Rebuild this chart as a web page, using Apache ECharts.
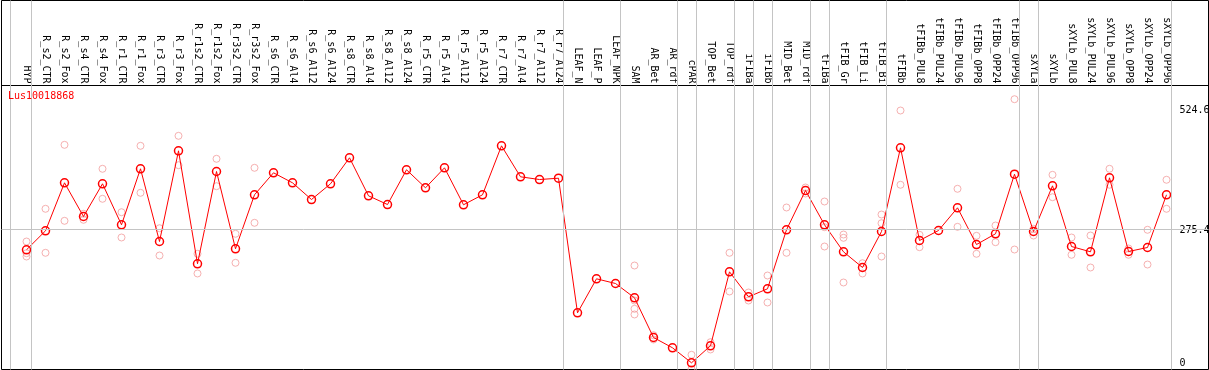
<!DOCTYPE html>
<html>
<head>
<meta charset="utf-8">
<script src="https://cdn.jsdelivr.net/npm/echarts@6/dist/echarts.min.js"></script>
<style>
html,body{margin:0;padding:0;background:#fff;}
#chart{width:1209px;height:370px;}
</style>
</head>
<body>
<div id="chart"></div>
<script>
const chartTitle = 'Lus10018868';
const categories = ['HYP','R_s2_CTR','R_s2_Fox','R_s4_CTR','R_s4_Fox','R_r1_CTR','R_r1_Fox','R_r3_CTR','R_r3_Fox','R_r1s2_CTR','R_r1s2_Fox','R_r3s2_CTR','R_r3s2_Fox','R_s6_CTR','R_s6_Al4','R_s6_Al12','R_s6_Al24','R_s8_CTR','R_s8_Al4','R_s8_Al12','R_s8_Al24','R_r5_CTR','R_r5_Al4','R_r5_Al12','R_r5_Al24','R_r7_CTR','R_r7_Al4','R_r7_Al12','R_r7_Al24','LEAF_N','LEAF_P','LEAF_NPK','SAM','AR_Bet','AR_rdf','cPAR','TOP_Bet','TOP_rdf','iFIBa','iFIBb','MID_Bet','MID_rdf','tFIBa','tFIB_Gr','tFIB_Li','tFIB_Bi','tFIBb','tFIBb_PUL8','tFIBb_PUL24','tFIBb_PUL96','tFIBb_OPP8','tFIBb_OPP24','tFIBb_OPP96','sXYLa','sXYLb','sXYLb_PUL8','sXYLb_PUL24','sXYLb_PUL96','sXYLb_OPP8','sXYLb_OPP24','sXYLb_OPP96'];
const means = [235.5,271.9,364.1,299.4,362.2,283.5,391.0,251.4,425.5,208.6,
  385.8,237.4,341.1,383.3,364.1,332.0,362.2,412.1,339.1,322.4,
  389.1,354.5,392.9,321.9,341.1,435.1,375.6,370.4,372.9,114.5,
  179.8,170.8,143.3,67.1,47.3,18.5,51.2,193.2,145.2,160.6,
  273.9,349.3,283.5,231.6,201.5,270.6,431.3,253.3,272.5,316.1,
  245.6,266.2,380.6,270.6,358.3,241.8,231.6,373.7,232.2,239.9,341.1];
const replicates = [
  [251.4,228.9,222.6],[314.2,229.7],[437.0,291.1],[304.6,293.1],[391.0,333.4],
  [307.6,259.1],[435.1,344.9],[276.9,224.5],[454.3,397.9],[227.8,190.0],
  [410.2,357.6],[266.2,210.5],[392.9,287.3],[],[],
  [],[],[],[],[],
  [],[],[],[],[],
  [],[],[],[],[],
  [],[],[205.3,138.1,122.2,111.3],[71.5,63.3],[],
  [33.9,6.6],[58.1,44.1],[229.7,155.4],[153.5,138.1],[186.1,134.3],
  [316.7,229.7],[355.1,343.6],[328.2,278.9,241.8],[264.8,258.5,172.7],[209.7,190.0],
  [303.2,286.5,222.6],[502.9,360.3],[264.3,240.5],[],[352.6,279.6],
  [262.3,227.8],[282.1,250.1],[524.6,236.0],[275.8,262.9],[379.4,336.4],
  [259.1,225.9],[262.9,201.5],[391.0,360.3],[238.0,225.9],[273.9,207.2],
  [369.9,314.2]
];
const groupEnds = ['HYP','R_r7_Al24','LEAF_NPK','AR_rdf','cPAR','TOP_rdf','iFIBa','iFIBb','MID_rdf','tFIBa','tFIB_Bi','tFIBb_OPP96','sXYLa','sXYLb_OPP96'];
const refLineValue = 275.4;
const yTickValues = [0, 275.4, 524.6];
const yTickLabels = ['0', '275.4', '524.6'];

// layout constants
const SEP_OFFSET = 0.235;
const LEAD_SEP = -0.84;
const X_MIN = -1.3158, X_MAX = 62.21;
const Y_MIN = 5.66, Y_MAX = 714.1;
const LBL_MIN = -13.48, LBL_MAX = 751.7;
const MONO = "'DejaVu Sans Mono', monospace";

const meanData = means.map((v, i) => [i, v]);
const repData = [];
replicates.forEach((arr, i) => arr.forEach(v => repData.push([i, v])));
const sepLines = [{xAxis: LEAD_SEP}].concat(groupEnds.map(n => ({xAxis: categories.indexOf(n) + SEP_OFFSET})));

const chart = echarts.init(document.getElementById('chart'), null, {renderer: 'canvas'});
chart.setOption({
  animation: false,
  backgroundColor: '#ffffff',
  title: {
    text: chartTitle, left: 8, top: 91, padding: 0,
    textStyle: {color: '#ff0000', fontSize: 10, fontWeight: 'normal', fontFamily: MONO}
  },
  grid: {
    left: 1.5, right: 0.5, top: 0.5, bottom: 0.5,
    show: true, borderColor: '#000000', borderWidth: 1, backgroundColor: 'transparent',
    containLabel: false, outerBoundsMode: 'none'
  },
  xAxis: [{
    type: 'value', min: X_MIN, max: X_MAX, position: 'top', offset: -85,
    axisLine: {show: true, onZero: false, lineStyle: {color: '#000000', width: 1}},
    axisTick: {show: false}, splitLine: {show: false},
    axisLabel: {
      customValues: categories.map((_, i) => i),
      formatter: v => categories[Math.round(v)] || '',
      rotate: 90, margin: 2, fontSize: 10, fontFamily: MONO, color: '#000000',
      hideOverlap: false
    }
  }],
  yAxis: [{
    type: 'value', min: Y_MIN, max: Y_MAX, show: false
  }, {
    type: 'value', min: LBL_MIN, max: LBL_MAX, position: 'right',
    axisLine: {show: false}, axisTick: {show: false}, splitLine: {show: false},
    axisLabel: {
      inside: true, customValues: yTickValues,
      formatter: v => {
        let best = 0;
        yTickValues.forEach((t, k) => { if (Math.abs(t - v) < Math.abs(yTickValues[best] - v)) best = k; });
        return yTickLabels[best];
      },
      align: 'left', margin: 29, fontSize: 10, fontFamily: MONO, color: '#000000'
    }
  }],
  series: [{
    type: 'line', data: [], xAxisIndex: 0, yAxisIndex: 0, z: 1, silent: true,
    markLine: {
      silent: true, symbol: 'none', label: {show: false}, animation: false,
      lineStyle: {color: '#c4c4c4', width: 1, type: 'solid'},
      emphasis: {disabled: true},
      data: sepLines.concat([{yAxis: refLineValue}])
    }
  }, {
    type: 'scatter', data: repData, xAxisIndex: 0, yAxisIndex: 0, z: 2, silent: true,
    symbol: 'circle', symbolSize: 7,
    itemStyle: {color: 'rgba(0,0,0,0)', borderColor: '#f29c9c', borderWidth: 1},
    emphasis: {disabled: true}
  }, {
    type: 'line', data: meanData, xAxisIndex: 0, yAxisIndex: 0, z: 3, silent: true,
    symbol: 'circle', symbolSize: 8, showAllSymbol: true,
    lineStyle: {color: '#ff0000', width: 1},
    itemStyle: {color: 'rgba(0,0,0,0)', borderColor: '#ff0000', borderWidth: 1.5},
    emphasis: {disabled: true}
  }]
});
</script>
</body>
</html>
